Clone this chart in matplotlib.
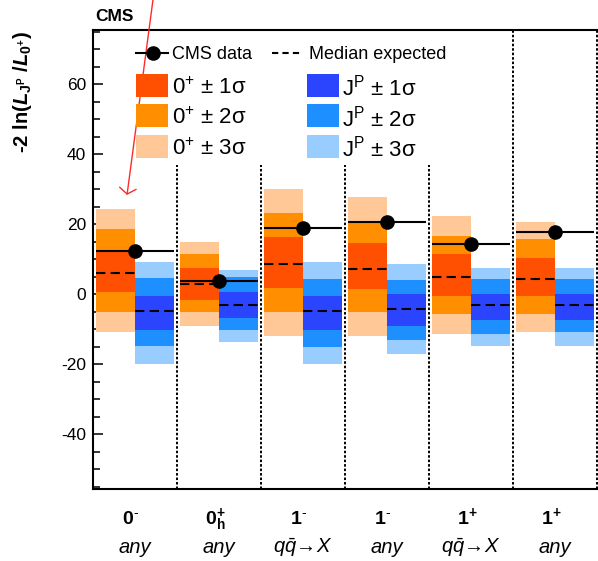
import matplotlib
matplotlib.use("Agg")
import matplotlib.pyplot as plt
from matplotlib.ticker import MultipleLocator
from matplotlib.patches import Rectangle
from matplotlib.lines import Line2D
import matplotlib.transforms as mtrans

plt.rcParams['font.family'] = ['Liberation Sans', 'DejaVu Sans']
plt.rcParams['mathtext.fontset'] = 'custom'
plt.rcParams['mathtext.rm'] = 'Liberation Sans'
plt.rcParams['mathtext.it'] = 'Liberation Sans:italic'
plt.rcParams['mathtext.bf'] = 'Liberation Sans:bold'
plt.rcParams['mathtext.bfit'] = 'Liberation Sans:bold:italic'
plt.rcParams['axes.unicode_minus'] = False

# ---------------- data ----------------
hyp_labels = [r"$\mathbf{0^{\text{-}}}$", r"$\mathbf{0^{+}_{h}}$", r"$\mathbf{1^{\text{-}}}$",
              r"$\mathbf{1^{\text{-}}}$", r"$\mathbf{1^{+}}$", r"$\mathbf{1^{+}}$"]
prod_labels = ["any", "any", r"$q\bar{q}\!\rightarrow\! X$", "any",
               r"$q\bar{q}\!\rightarrow\! X$", "any"]

observed = [12.4, 3.9, 18.9, 20.6, 14.4, 17.7]

# SM 0+ expectation (orange)
sm_median = [6.2, 2.9, 8.6, 7.3, 5.0, 4.5]
sm_1s_lo = [0.7, -1.6, 1.9, 1.4, -0.5, -0.5]
sm_1s_hi = [12.2, 7.6, 16.3, 14.6, 11.5, 10.5]
sm_2s_lo = [-5.1, -5.0, -5.1, -5.0, -5.6, -5.6]
sm_2s_hi = [18.6, 11.6, 23.1, 20.7, 16.7, 15.7]
sm_3s_lo = [-10.7, -9.0, -11.8, -11.8, -11.3, -10.7]
sm_3s_hi = [24.3, 15.0, 30.0, 27.7, 22.5, 20.7]

# alternative J^P expectation (blue)
alt_median = [-4.7, -3.0, -4.7, -4.1, -3.0, -3.0]
alt_1s_lo = [-10.2, -6.8, -10.2, -9.0, -7.3, -7.3]
alt_1s_hi = [-0.4, 0.7, -0.5, 0.1, 0.1, 0.1]
alt_2s_lo = [-14.7, -10.2, -15.0, -13.1, -11.3, -10.9]
alt_2s_hi = [4.6, 4.9, 4.4, 4.1, 4.3, 4.3]
alt_3s_lo = [-19.9, -13.5, -19.9, -17.1, -14.7, -14.7]
alt_3s_hi = [9.3, 6.9, 9.3, 8.7, 7.4, 7.4]

sm_colors = ['#ff4f00', '#ff8f00', '#ffc896']
alt_colors = ['#2b45ff', '#1e8fff', '#99ccff']

# ---------------- figure ----------------
W, H = 598, 561
fig = plt.figure(figsize=(W / 100, H / 100), dpi=100)
ax = fig.add_axes([93 / W, 72 / H, 504 / W, 459 / H])
ax.set_xlim(0, 6)
ax.set_ylim(-55.6, 75.5)

n = len(observed)
xs = list(range(n))
x_or = [i + 0.04 for i in xs]
x_bl = [i + 0.50 for i in xs]
bw = 0.46

def band(lo, hi):
    return [h - l for l, h in zip(lo, hi)], lo

for (lo, hi), c in zip([(sm_3s_lo, sm_3s_hi), (sm_2s_lo, sm_2s_hi), (sm_1s_lo, sm_1s_hi)],
                       [sm_colors[2], sm_colors[1], sm_colors[0]]):
    h, b = band(lo, hi)
    ax.bar(x_or, h, bottom=b, width=bw, align='edge', color=c, lw=0, zorder=2)
for (lo, hi), c in zip([(alt_3s_lo, alt_3s_hi), (alt_2s_lo, alt_2s_hi), (alt_1s_lo, alt_1s_hi)],
                       [alt_colors[2], alt_colors[1], alt_colors[0]]):
    h, b = band(lo, hi)
    ax.bar(x_bl, h, bottom=b, width=bw, align='edge', color=c, lw=0, zorder=2)

dash = (0, (4.5, 2.5))
ax.hlines(sm_median, x_or, [x + bw for x in x_or], colors='black', lw=1.5,
          linestyles=[dash], zorder=3)
ax.hlines(alt_median, x_bl, [x + bw for x in x_bl], colors='black', lw=1.5,
          linestyles=[dash], zorder=3)

ax.hlines(observed, x_or, [x + bw for x in x_bl], colors='black', lw=1.5, zorder=4)
ax.plot([i + 0.5 for i in xs], observed, 'o', color='black', ms=9.5, zorder=5)

# dotted separators
dot = (0, (1.3, 1.0))
for i in range(1, n + 1):
    ax.axvline(i, color='black', lw=1.4, linestyle=dot, zorder=1, clip_on=False)

# legend box (white, covers separators)
ax.add_patch(Rectangle((0.014, 0.706), 0.805, 0.292, transform=ax.transAxes,
                       facecolor='white', edgecolor='none', zorder=1.5))

def axx(px):
    return (px - 93) / 504

def axy(py):
    return (489 - py) / 459

T = ax.transAxes
# row 1
ax.add_line(Line2D([axx(136), axx(168)], [axy(52.7)] * 2, color='black', lw=1.5,
                   transform=T, zorder=6))
ax.add_line(Line2D([axx(153)], [axy(52.7)], marker='o', ms=9.5, color='black',
                   transform=T, zorder=6))
ax.text(axx(172), axy(52.7), "CMS data", transform=T, fontsize=13, va='center_baseline',
        ha='left', zorder=6)
ax.add_line(Line2D([axx(272), axx(302)], [axy(52.7)] * 2, color='black', lw=1.5,
                   linestyle=(0, (3, 2)), transform=T, zorder=6))
ax.text(axx(309), axy(52.7), "Median expected", transform=T, fontsize=13,
        va='center_baseline', ha='left', zorder=6)

row_c = [85.3, 115.9, 146.5]
sig = ["1", "2", "3"]
for k in range(3):
    y0 = axy(row_c[k] + 11.5)
    hh = 23 / 459
    ax.add_patch(Rectangle((axx(136), y0), 32 / 504, hh, transform=T,
                           facecolor=sm_colors[k], edgecolor='none', zorder=6))
    ax.add_patch(Rectangle((axx(306.7), y0), 32 / 504, hh, transform=T,
                           facecolor=alt_colors[k], edgecolor='none', zorder=6))
    ax.text(axx(172), axy(row_c[k]), r"$0^{+}$" + " ± " + sig[k] + "σ", transform=T,
            fontsize=16, va='center_baseline', ha='left', zorder=6)
    ax.text(axx(342), axy(row_c[k]), r"$\mathrm{J}^{\mathrm{P}}$" + " ± " + sig[k] + "σ",
            transform=T, fontsize=16, va='center_baseline', ha='left', zorder=6)

# axes styling
for s in ['left', 'top', 'bottom']:
    ax.spines[s].set_linewidth(1.5)
ax.spines['right'].set_visible(False)
ax.set_xticks([])
ax.yaxis.set_major_locator(MultipleLocator(20))
ax.yaxis.set_minor_locator(MultipleLocator(5))
ax.tick_params(axis='y', which='major', direction='in', length=7.5, width=1.1,
               labelsize=12.5, pad=5)
ax.tick_params(axis='y', which='minor', direction='in', length=4.8, width=1.1)

# category labels
trans = mtrans.blended_transform_factory(ax.transData, ax.transAxes)
for i in xs:
    ax.text(i + 0.45, axy(524), hyp_labels[i], transform=trans, ha='center',
            va='baseline', fontsize=14)
    if prod_labels[i] == "any":
        ax.text(i + 0.5, axy(553), "any", transform=trans, ha='center', va='baseline',
                fontsize=14.5, style='italic')
    else:
        ax.text(i + 0.5, axy(553), prod_labels[i], transform=trans, ha='center',
                va='baseline', fontsize=14.5)

# y label
ylab = ("-2 ln(" + r"$\mathbfit{L}_{\mathbf{J}^{\mathbf{P}}}$" + " /" +
        r"$\mathbfit{L}_{\mathbf{0}^{\mathbf{+}}}$" + ")")
fig.text(22 / W, (H - 31) / H, ylab, rotation=90, ha='center', va='top',
         fontsize=14.5, fontweight='bold')

# CMS label
fig.text(95 / W, (H - 21) / H, "CMS", ha='left', va='baseline', fontsize=12.5,
         fontweight='bold')

# red arrow
ax.annotate('', xy=(0.405, 28.4), xytext=(0.714, 84.1), xycoords='data',
            arrowprops=dict(arrowstyle='->,head_length=0.35,head_width=0.5',
                            color='#ff2a2a', lw=1.0, mutation_scale=12,
                            shrinkA=0, shrinkB=0),
            annotation_clip=False)

fig.savefig("out.png", dpi=100)
